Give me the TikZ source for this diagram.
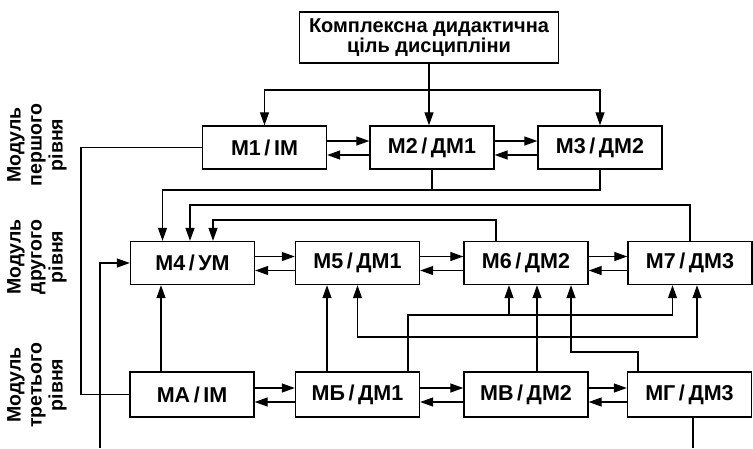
\documentclass[tikz,border=0pt]{standalone}
\usepackage{fontspec}
\setmainfont{Liberation Sans}
\usetikzlibrary{arrows.meta,positioning,calc}

\begin{document}
\begin{tikzpicture}[x=1pt, y=-1pt,
  modbox/.style={draw, line width=1.4pt, minimum width=124pt, minimum height=43pt,
                 inner sep=0pt, font=\fontsize{21.5}{22}\selectfont\bfseries},
  goalbox/.style={draw, line width=1.4pt, minimum width=259pt, minimum height=51pt,
                  align=center, inner sep=0pt, font=\fontsize{20}{19.5}\selectfont\bfseries},
  lvl/.style={rotate=90, align=center, font=\fontsize{19.5}{21}\selectfont\bfseries},
  link/.style={line width=1.3pt},
  arr/.style={link, -{Triangle[length=13pt,width=9pt]}},
]
\useasboundingbox (0,0) rectangle (753,448);

\def\up{6.5pt}    % upper arrow of a pair, above the box middle
\def\dn{-7.5pt}   % lower arrow of a pair

\node[goalbox] (goal) at (429,37.5) {Комплексна дидактична\\ціль дисципліни};

% three levels of modules
\foreach \nm/\xx/\aa/\bb in {m1/264.5/1/ІМ, m2/432/2/ДМ1, m3/600/3/ДМ2}
  \node[modbox] (\nm) at (\xx,147.5) {М\aa\,/\,\bb};
\foreach \nm/\xx/\aa/\bb in {m4/192.5/4/УМ, m5/357.5/5/ДМ1, m6/526/6/ДМ2, m7/690/7/ДМ3}
  \node[modbox] (\nm) at (\xx,263) {М\aa\,/\,\bb};
\foreach \nm/\xx/\aa/\bb in {ma/192/А/ІМ, mb/357.5/Б/ДМ1, mv/526/В/ДМ2, mg/689.5/Г/ДМ3}
  \node[modbox, minimum height=45pt] (\nm) at (\xx,394.5) {М\aa\,/\,\bb};

\node[lvl] (lv1) at (37,145) {Модуль\\першого\\рівня};
\node[lvl] (lv2) at (37,257) {Модуль\\другого\\рівня};
\node[lvl] (lv3) at (37,385) {Модуль\\третього\\рівня};

% goal to the first level
\draw[arr] (goal.south) -- (goal.south |- m2.north);
\coordinate (fan) at (goal.south |- 0,90);
\draw[arr] (fan) -| (m1.north);
\draw[arr] (fan) -| (m3.north);

% pairs inside a level
\foreach \a/\b in {m1/m2, m2/m3, m4/m5, m5/m6, m6/m7, ma/mb, mb/mv, mv/mg} {
  \draw[arr] ([yshift=\up]\a.east) -- ([yshift=\up]\b.west);
  \draw[arr] ([yshift=\dn]\b.west) -- ([yshift=\dn]\a.east);
}

% into M4 from above
\draw[link] (m2.south) -- (m2.south |- 0,190);
\draw[arr] (m3.south) |- ([xshift=-30pt]m4.north |- 0,190) -- ([xshift=-30pt]m4.north);
\draw[arr] (m7.north) |- ([xshift=-2.5pt]m4.north |- 0,205) -- ([xshift=-2.5pt]m4.north);
\draw[arr] ([xshift=-30pt]m6.north) |- ([xshift=20.5pt]m4.north |- 0,220) -- ([xshift=20.5pt]m4.north);

% third level up to the second
\draw[arr] ([xshift=-31pt]ma.north) -- ([xshift=-31pt]ma.north |- m4.south);
\draw[arr] ([xshift=-30.5pt]mb.north) -- ([xshift=-30.5pt]mb.north |- m5.south);
\draw[arr] ([xshift=50.5pt]mb.north) |- ([xshift=-17.5pt]m7.south |- 0,315) -- ([xshift=-17.5pt]m7.south);
\draw[arr] ([xshift=-17pt]m6.south |- 0,315) -- ([xshift=-17pt]m6.south);
\draw[arr] ([xshift=11pt]mv.north) -- ([xshift=11pt]mv.north |- m6.south);
\draw[arr] ([xshift=11pt]mv.north |- 0,337) -| (m5.south);
\draw[arr] ([xshift=11pt]mv.north |- 0,337) -| ([xshift=7pt]m7.south);
\draw[arr] ([xshift=-51.5pt]mg.north) |- ([xshift=45pt]m6.south |- 0,352) -- ([xshift=45pt]m6.south);

% loops on the left and the bottom
\draw[link] (m1.west) -- (m1.west -| 81,0) |- (ma.west);
\coordinate (bl) at (100,448);
\coordinate (br) at (693,448);
\draw[arr] (bl) |- (m4.west);
\draw[link] ([xshift=3.5pt]mg.south) -- ([xshift=3.5pt]mg.south |- br);

\end{tikzpicture}
\end{document}
